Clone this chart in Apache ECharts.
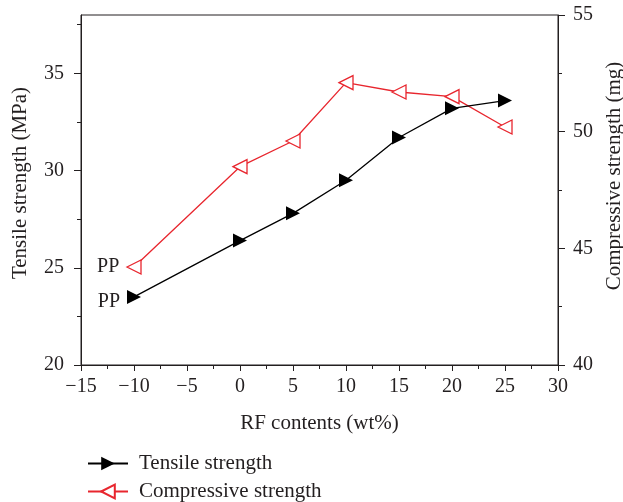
<!DOCTYPE html>
<html>
<head>
<meta charset="utf-8">
<script src="https://cdn.jsdelivr.net/npm/echarts@6/dist/echarts.min.js"></script>
<style>
  html, body { margin: 0; padding: 0; background: #fff; }
  #chart { width: 623px; height: 502px; }
</style>
</head>
<body>
<div id="chart"></div>
<script>
// RF content (wt%), PP plotted at -10
const rfContents = [-10, 0, 5, 10, 15, 20, 25]
const tensileStrength = [23.5, 26.4, 27.8, 29.5, 31.7, 33.2, 33.6]
const compressiveStrength = [44.2, 48.5, 49.6, 52.1, 51.7, 51.5, 50.2]
const pointLabels = ['PP', '', '', '', '', '', '']
const leftMajor = [20, 25, 30, 35]
const leftMinor = [22.5, 27.5, 32.5, 37.5]

const ink = '#231f20'
const red = '#e8262e'
const font = '"Liberation Serif", "Times New Roman", serif'

const chart = echarts.init(document.getElementById('chart'))

// attach PP label to the first point
function toData(values, offsetY) {
  return values.map((v, i) => ({
    value: [rfContents[i], v],
    label: pointLabels[i] ? {
      show: true,
      formatter: pointLabels[i],
      position: 'left',
      distance: 7,
      offset: [0, offsetY],
      color: ink,
      fontFamily: font,
      fontSize: 20
    } : undefined
  }))
}

const axisText = { color: ink, fontFamily: font, fontSize: 20 }
const nameText = { color: ink, fontFamily: font, fontSize: 21 }

function legendAt(top, name) {
  return {
    left: 82, top: top,
    itemWidth: 40, itemHeight: 17,
    textStyle: { color: ink, fontFamily: font, fontSize: 21, padding: [0, 0, 0, 6] },
    data: [name]
  }
}

chart.setOption({
  animation: false,
  backgroundColor: '#fff',
  textStyle: { fontFamily: font },
  grid: {
    left: 81, right: 65, top: 15, bottom: 137,
    outerBoundsMode: 'none',
    containLabel: false,
    show: true, borderColor: ink, borderWidth: 1
  },
  legend: [
    legendAt(448, 'Tensile strength'),
    legendAt(476, 'Compressive strength')
  ],
  xAxis: {
    type: 'value', min: -15, max: 30, interval: 5,
    name: 'RF contents (wt%)', nameLocation: 'middle', nameGap: 48,
    nameTextStyle: nameText,
    axisLine: { onZero: false, lineStyle: { color: ink, width: 1 } },
    axisTick: { length: 6, lineStyle: { color: ink } },
    minorTick: { show: true, splitNumber: 2, length: 4, lineStyle: { color: ink } },
    axisLabel: { ...axisText, margin: 12, formatter: v => String(v).replace('-', '\u2212') },
    splitLine: { show: false }
  },
  yAxis: [
    {
      type: 'value', min: 20, max: 38, interval: 5, position: 'left',
      name: 'Tensile strength (MPa)', nameLocation: 'middle', nameGap: 50, nameRotate: 90,
      nameTextStyle: { ...nameText, padding: [0, 0, 0, 14] },
      axisLine: { show: true, onZero: false, lineStyle: { color: ink, width: 1 } },
      axisTick: { show: true, length: 7, customValues: leftMajor, lineStyle: { color: ink } },
      axisLabel: { ...axisText, margin: 17, customValues: leftMajor },
      splitLine: { show: false }
    },
    {
      type: 'value', min: 40, max: 55, interval: 5, position: 'right',
      name: 'Compressive strength (mg)', nameLocation: 'middle', nameGap: 46, nameRotate: 90,
      nameTextStyle: { ...nameText, padding: [0, 0, 0, 28] },
      axisLine: { show: true, onZero: false, lineStyle: { color: ink, width: 1 } },
      axisTick: { show: true, length: 7, lineStyle: { color: ink } },
      minorTick: { show: true, splitNumber: 2, length: 4, lineStyle: { color: ink } },
      axisLabel: { ...axisText, margin: 15 },
      splitLine: { show: false }
    },
    {
      // minor ticks of the left axis
      type: 'value', min: 20, max: 38, position: 'left',
      axisLine: { show: false, onZero: false },
      axisTick: { show: true, length: 4, customValues: leftMinor, lineStyle: { color: ink } },
      axisLabel: { show: false },
      splitLine: { show: false }
    }
  ],
  series: [
    {
      name: 'Tensile strength',
      type: 'line',
      yAxisIndex: 0,
      data: toData(tensileStrength, 5),
      symbol: 'triangle', symbolRotate: -90, symbolSize: 14,
      itemStyle: { color: '#000' },
      lineStyle: { color: '#000', width: 1.3 },
      z: 3
    },
    {
      name: 'Compressive strength',
      type: 'line',
      yAxisIndex: 1,
      data: toData(compressiveStrength, 0),
      symbol: 'triangle', symbolRotate: 90, symbolSize: 14,
      itemStyle: { color: '#fff', borderColor: red, borderWidth: 1.3 },
      lineStyle: { color: red, width: 1.3 },
      z: 2
    }
  ]
})
</script>
</body>
</html>
